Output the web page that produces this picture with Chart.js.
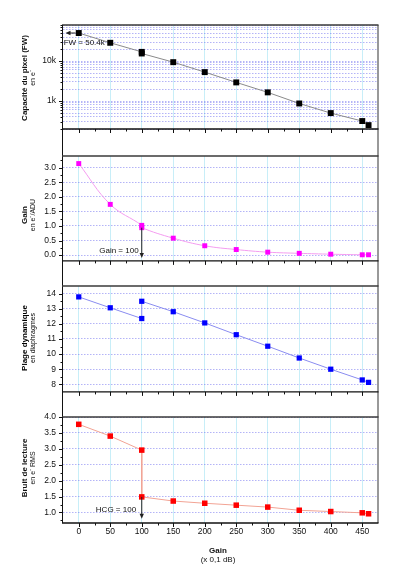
<!DOCTYPE html>
<html>
<head>
<meta charset="utf-8">
<script src="https://cdn.jsdelivr.net/npm/chart.js@4.4.1/dist/chart.umd.min.js"></script>
<style>
  body { margin: 0; background: #fff; }
  #wrap { position: relative; width: 416px; height: 585px; }
  #wrap canvas { position: absolute; left: 0; }
</style>
</head>
<body>
<div id="wrap">
  <canvas id="c1" width="416" height="142" style="top:0px"></canvas>
  <canvas id="c2" width="416" height="131" style="top:142px"></canvas>
  <canvas id="c3" width="416" height="131" style="top:273px"></canvas>
  <canvas id="c4" width="416" height="181" style="top:404px"></canvas>
</div>
<script>
// gain setting (x 0.1 dB), two measurements at 100 (LCG / HCG switch)
const gainX = [0, 50, 100, 100, 150, 200, 250, 300, 350, 400, 450, 460];
const fullWell = [50400, 28700, 17000, 15500, 9400, 5300, 2930, 1650, 870, 500, 316, 250];
const gainADU = [3.14, 1.74, 1.02, 0.94, 0.58, 0.32, 0.19, 0.10, 0.06, 0.03, 0.01, 0.01];
const dynRange = [13.78, 13.06, 12.35, 13.49, 12.80, 12.06, 11.28, 10.52, 9.74, 9.00, 8.29, 8.13];
const readNoise = [3.77, 3.40, 2.96, 1.49, 1.36, 1.29, 1.23, 1.17, 1.07, 1.03, 0.99, 0.96];

const xMajor = [0, 50, 100, 150, 200, 250, 300, 350, 400, 450];
const xMinor = [25, 75, 125, 175, 225, 275, 325, 375, 425];

const fwMajor = [1000, 10000];
const fwMinor = [200, 300, 400, 500, 600, 700, 800, 900, 2000, 3000, 4000, 5000, 6000, 7000, 8000, 9000,
                 20000, 30000, 40000, 50000, 60000, 70000, 80000];
const gainMajor = [0, 0.5, 1, 1.5, 2, 2.5, 3];
const gainMinor = [0.25, 0.75, 1.25, 1.75, 2.25, 2.75, 3.25];
const drMajor = [8, 9, 10, 11, 12, 13, 14];
const drMinor = [8.5, 9.5, 10.5, 11.5, 12.5, 13.5];
const rnMajor = [1, 1.5, 2, 2.5, 3, 3.5, 4];
const rnMinor = [0.75, 1.25, 1.75, 2.25, 2.75, 3.25, 3.75];

Chart.defaults.font.family = "'Liberation Sans', Arial, sans-serif";
Chart.defaults.color = '#111';

const FONT = "'Liberation Sans', Arial, sans-serif";
const LEFT = 63, RIGHT = 378;

function arrow(ctx, x1, y1, x2, y2, color) {
    const ang = Math.atan2(y2 - y1, x2 - x1);
    ctx.strokeStyle = color;
    ctx.fillStyle = color;
    ctx.lineWidth = 1;
    ctx.beginPath();
    ctx.moveTo(x1, y1);
    ctx.lineTo(x2 - Math.cos(ang) * 4, y2 - Math.sin(ang) * 4);
    ctx.stroke();
    ctx.beginPath();
    ctx.moveTo(x2, y2);
    ctx.lineTo(x2 - Math.cos(ang) * 5 + Math.sin(ang) * 2.2, y2 - Math.sin(ang) * 5 - Math.cos(ang) * 2.2);
    ctx.lineTo(x2 - Math.cos(ang) * 5 - Math.sin(ang) * 2.2, y2 - Math.sin(ang) * 5 + Math.cos(ang) * 2.2);
    ctx.closePath();
    ctx.fill();
}

function panel(p) {
    const padTop = p.areaTop - p.top;
    const padBottom = p.top + p.h - p.areaBottom - p.xHeight;

    const frame = {
        id: 'frame' + p.id,
        afterDraw(chart) {
            const { ctx, chartArea: a, scales: { x, y } } = chart;
            ctx.save();
            // left / right lines run through the gaps between panels
            ctx.lineWidth = 1;
            ctx.strokeStyle = '#111';
            ctx.beginPath();
            ctx.moveTo(LEFT - 0.5, p.first ? a.top : 0);
            ctx.lineTo(LEFT - 0.5, p.last ? a.bottom : chart.height);
            ctx.stroke();
            ctx.strokeStyle = '#777';
            ctx.lineWidth = 1.5;
            ctx.beginPath();
            ctx.moveTo(RIGHT, p.first ? a.top : 0);
            ctx.lineTo(RIGHT, p.last ? a.bottom : chart.height);
            ctx.stroke();
            // top and bottom of the panel
            ctx.strokeStyle = '#3a3a3a';
            ctx.lineWidth = 1.6;
            ctx.beginPath();
            ctx.moveTo(LEFT - 1, a.top);
            ctx.lineTo(RIGHT + 0.5, a.top);
            ctx.stroke();
            ctx.strokeStyle = '#111';
            ctx.lineWidth = 1.4;
            ctx.beginPath();
            ctx.moveTo(LEFT - 1, a.bottom);
            ctx.lineTo(RIGHT + 0.5, a.bottom);
            ctx.stroke();
            // tick marks
            ctx.lineWidth = 1;
            ctx.strokeStyle = '#111';
            ctx.beginPath();
            xMajor.forEach(v => { const px = Math.round(x.getPixelForValue(v)) + 0.5; ctx.moveTo(px, a.bottom); ctx.lineTo(px, a.bottom + 4); });
            xMinor.forEach(v => { const px = Math.round(x.getPixelForValue(v)) + 0.5; ctx.moveTo(px, a.bottom); ctx.lineTo(px, a.bottom + 2.5); });
            p.yMajor.forEach(v => { const py = Math.round(y.getPixelForValue(v)) + 0.5; ctx.moveTo(LEFT, py); ctx.lineTo(LEFT - 4, py); });
            p.yMinor.forEach(v => { const py = Math.round(y.getPixelForValue(v)) + 0.5; ctx.moveTo(LEFT, py); ctx.lineTo(LEFT - 2.5, py); });
            ctx.stroke();
            // annotations
            if (p.arrow) {
                const [x1, y1, x2, y2] = p.arrow;
                arrow(ctx, x.getPixelForValue(x1), y.getPixelForValue(y1), x.getPixelForValue(x2), y.getPixelForValue(y2), '#222');
            }
            if (p.note) {
                ctx.font = '8px ' + FONT;
                ctx.fillStyle = '#111';
                ctx.textAlign = p.note.align;
                ctx.textBaseline = 'middle';
                ctx.fillText(p.note.text, x.getPixelForValue(p.note.x), y.getPixelForValue(p.note.y));
            }
            // axis titles
            ctx.translate(24.5, p.titleY - p.top);
            ctx.rotate(-Math.PI / 2);
            ctx.textAlign = 'center';
            ctx.textBaseline = 'middle';
            ctx.font = 'bold 8px ' + FONT;
            ctx.fillText(p.title, 0, 0);
            ctx.font = '7px ' + FONT;
            ctx.fillText(p.sub, 0, 9);
            ctx.restore();
            if (p.last) {
                ctx.save();
                ctx.fillStyle = '#111';
                ctx.textAlign = 'center';
                ctx.textBaseline = 'middle';
                ctx.font = 'bold 8px ' + FONT;
                ctx.fillText('Gain', 218, 550.5 - p.top);
                ctx.font = '8px ' + FONT;
                ctx.fillText('(x 0,1 dB)', 218, 559.5 - p.top);
                ctx.restore();
            }
        }
    };

    return new Chart(document.getElementById(p.id), {
        type: 'line',
        data: {
            datasets: [{
                data: gainX.map((v, i) => ({ x: v, y: p.values[i] })),
                borderColor: p.line,
                borderWidth: 1,
                tension: p.tension || 0,
                pointStyle: 'rect',
                pointRadius: p.r,
                pointBackgroundColor: p.mark,
                pointBorderColor: p.mark,
                pointBorderWidth: 0
            }]
        },
        options: {
            responsive: false,
            animation: false,
            layout: { padding: { top: padTop, bottom: padBottom, left: 0, right: 416 - RIGHT } },
            plugins: { legend: { display: false }, tooltip: { enabled: false } },
            scales: {
                x: {
                    type: 'linear',
                    min: -25,
                    max: 475,
                    afterBuildTicks: s => { s.ticks = xMajor.map(v => ({ value: v })); },
                    afterFit: s => { s.height = p.xHeight; },
                    grid: { color: '#c8eef8', lineWidth: 1, drawTicks: false },
                    border: { display: false },
                    ticks: { display: !!p.last, padding: 4, font: { size: 8.5 }, color: '#111', maxRotation: 0, autoSkip: false }
                },
                y: {
                    type: p.log ? 'logarithmic' : 'linear',
                    min: p.min,
                    max: p.max,
                    afterBuildTicks: s => { s.ticks = p.yGrid.map(v => ({ value: v })); },
                    afterFit: s => { s.width = LEFT; },
                    grid: { color: 'rgba(105,105,240,0.5)', lineWidth: 1, drawTicks: false },
                    border: { display: false, dash: [1.5, 1.5] },
                    ticks: {
                        padding: 7,
                        autoSkip: false,
                        font: { size: 8.5 },
                        color: '#111',
                        callback: p.label
                    }
                }
            }
        },
        plugins: [frame]
    });
}

panel({
    id: 'c1', top: 0, h: 142, areaTop: 25, areaBottom: 129, xHeight: 0, first: true,
    values: fullWell, log: true, min: 200, max: 80000,
    yGrid: fwMinor.concat(fwMajor).sort((a, b) => a - b), yMajor: fwMajor, yMinor: fwMinor,
    label: v => v === 1000 ? '1k' : v === 10000 ? '10k' : '',
    line: '#8a8a8a', mark: '#000', r: 4.2,
    arrow: [-5, 50400, -21, 50400],
    note: { text: 'FW = 50.4k', x: -24, y: 28500, align: 'left' },
    title: 'Capacité du pixel (FW)', sub: 'en e⁻', titleY: 78
});

panel({
    id: 'c2', top: 142, h: 131, areaTop: 156, areaBottom: 261, xHeight: 0,
    values: gainADU, min: -0.2, max: 3.4, tension: 0.4,
    yGrid: gainMajor, yMajor: gainMajor, yMinor: gainMinor,
    label: v => v.toFixed(1),
    line: '#f49cf0', mark: '#ff00ff', r: 3.5,
    arrow: [100, 0.94, 100, -0.1],
    note: { text: 'Gain = 100', x: 95, y: 0.16, align: 'right' },
    title: 'Gain', sub: 'en e⁻/ADU', titleY: 215
});

panel({
    id: 'c3', top: 273, h: 131, areaTop: 286, areaBottom: 392, xHeight: 0,
    values: dynRange, min: 7.5, max: 14.5,
    yGrid: drMajor, yMajor: drMajor, yMinor: drMinor,
    label: v => String(v),
    line: '#8a8cf0', mark: '#0000ff', r: 3.7,
    title: 'Plage dynamique', sub: 'en diaphragmes', titleY: 338
});

panel({
    id: 'c4', top: 404, h: 181, areaTop: 417, areaBottom: 523, xHeight: 17, last: true,
    values: readNoise, min: 0.67, max: 4.0,
    yGrid: rnMajor, yMajor: rnMajor, yMinor: rnMinor,
    label: v => v.toFixed(1),
    line: '#f2a394', mark: '#ff0000', r: 3.9,
    arrow: [100, 1.49, 100, 0.8],
    note: { text: 'HCG = 100', x: 91, y: 1.07, align: 'right' },
    title: 'Bruit de lecture', sub: 'en e⁻ RMS', titleY: 468
});
</script>
</body>
</html>
